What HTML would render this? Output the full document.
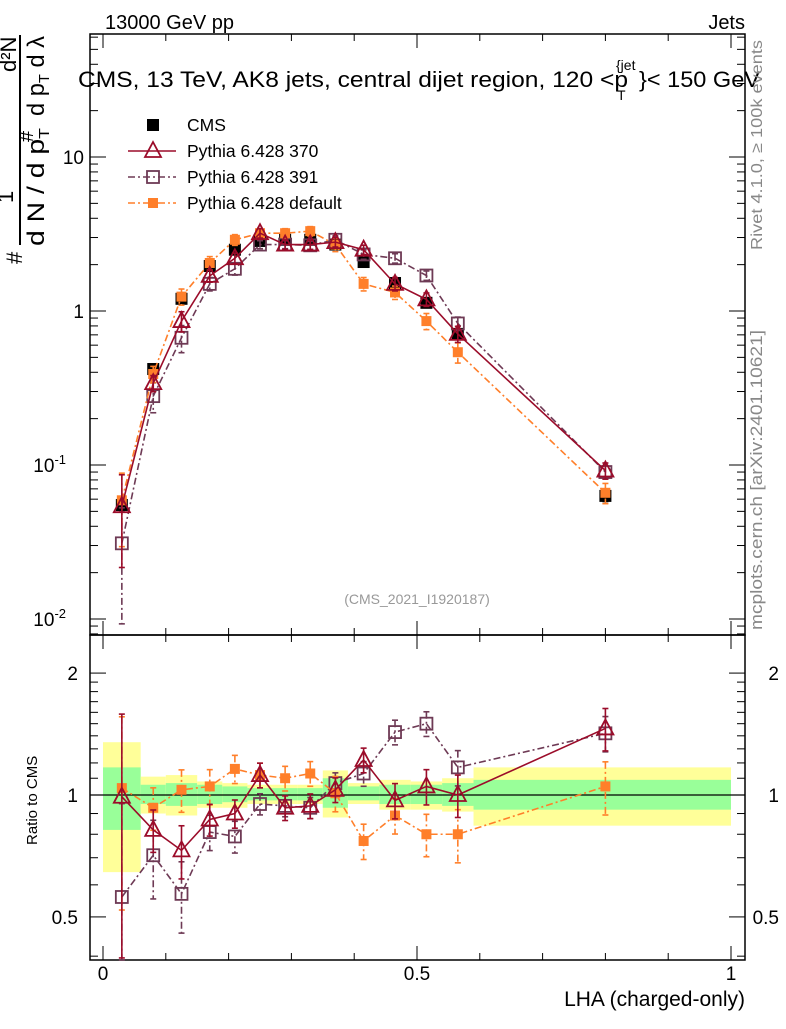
<!DOCTYPE html>
<html><head><meta charset="utf-8"><style>
html,body{margin:0;padding:0;background:#fff;}
svg text{font-family:"Liberation Sans",sans-serif;}
</style></head><body>
<svg id="chart" width="786" height="1024" viewBox="0 0 786 1024" xmlns="http://www.w3.org/2000/svg">
<g id="bands"></g>
<g id="axes"></g>
<g id="series"></g>
<text x="105" y="29" font-size="20">13000 GeV pp</text>
<text x="745" y="29" font-size="20" text-anchor="end">Jets</text>
<g>
<text x="78" y="87" font-size="22" textLength="550" lengthAdjust="spacingAndGlyphs">CMS, 13 TeV, AK8 jets, central dijet region, 120 &lt;p</text>
<text x="617" y="100" font-size="14">T</text>
<text x="616" y="70" font-size="14">{jet</text>
<text x="639" y="87" font-size="22" textLength="121" lengthAdjust="spacingAndGlyphs">}&lt; 150 GeV</text>
</g>
<text x="417" y="604" font-size="14" fill="#999" text-anchor="middle">(CMS_2021_I1920187)</text>
<text transform="translate(762,250) rotate(-90)" font-size="16" fill="#888" textLength="210" lengthAdjust="spacingAndGlyphs">Rivet 4.1.0, ≥ 100k events</text>
<text transform="translate(762,630) rotate(-90)" font-size="17" fill="#888" textLength="300" lengthAdjust="spacingAndGlyphs">mcplots.cern.ch [arXiv:2401.10621]</text>
<g font-size="24">
<line x1="20" y1="35" x2="20" y2="245" stroke="#000" stroke-width="2"/>
<text transform="translate(44,246) rotate(-90)" textLength="118" lengthAdjust="spacingAndGlyphs">d N / d p<tspan font-size="15" dy="5">T</tspan></text>
<text transform="translate(44,116) rotate(-90)" textLength="80" lengthAdjust="spacingAndGlyphs">d p<tspan font-size="15" dy="5">T</tspan><tspan dy="-5"> d λ</tspan></text>
<text transform="translate(22,264) rotate(-90)" font-size="22">#</text>
<text transform="translate(13,203) rotate(-90)" font-size="22">1</text>
<text transform="translate(33,142) rotate(-90)" font-size="20">#</text>
<text transform="translate(16,72) rotate(-90)" font-size="22">d²N</text>
</g>
<text transform="translate(37,845) rotate(-90)" font-size="15">Ratio to CMS</text>
<text x="745" y="1006" font-size="21" text-anchor="end">LHA (charged-only)</text>
<g id="legend"></g>
</svg>
<script>
const binEdges=[0,0.06,0.1,0.15,0.19,0.23,0.27,0.31,0.35,0.39,0.44,0.49,0.54,0.59,1.0];
const xCenters=[0.03,0.08,0.125,0.17,0.21,0.25,0.29,0.33,0.37,0.415,0.465,0.515,0.565,0.8];
const cmsValues=[0.055,0.42,1.2,1.96,2.5,2.85,2.9,2.9,2.7,2.08,1.52,1.13,0.71,0.063];
const cmsErr=[0.1,0.06,0.06,0.05,0.05,0.05,0.05,0.05,0.06,0.05,0.05,0.05,0.06,0.08];
const p370Values=[0.054,0.34,0.86,1.69,2.2,3.2,2.7,2.7,2.8,2.5,1.5,1.19,0.71,0.092];
const p370Ratio=[0.99,0.82,0.73,0.87,0.9,1.12,0.93,0.94,1.03,1.22,0.97,1.05,1.0,1.46];
const p370Err=[0.6,0.12,0.15,0.09,0.08,0.07,0.07,0.07,0.07,0.07,0.1,0.1,0.12,0.12];
const p391Values=[0.031,0.28,0.67,1.5,1.88,2.7,2.7,2.67,2.9,2.33,2.2,1.7,0.83,0.09];
const p391Ratio=[0.56,0.71,0.57,0.81,0.79,0.95,0.94,0.93,1.07,1.13,1.43,1.5,1.17,1.42];
const p391Err=[0.7,0.22,0.2,0.1,0.09,0.06,0.06,0.06,0.06,0.07,0.07,0.07,0.1,0.1];
const pDefValues=[0.059,0.39,1.24,2.05,2.9,3.2,3.2,3.3,2.7,1.5,1.32,0.86,0.54,0.066];
const pDefRatio=[1.04,0.93,1.03,1.05,1.16,1.12,1.1,1.13,1.01,0.77,0.89,0.8,0.8,1.05];
const pDefErr=[0.5,0.12,0.12,0.1,0.08,0.07,0.07,0.07,0.1,0.1,0.1,0.12,0.15,0.15];
const yellowLo=[0.645,0.90,0.89,0.93,0.93,0.95,0.95,0.95,0.88,0.95,0.92,0.92,0.91,0.84];
const yellowHi=[1.35,1.11,1.12,1.08,1.07,1.06,1.06,1.06,1.15,1.07,1.09,1.08,1.10,1.17];
const greenLo=[0.82,0.95,0.94,0.95,0.96,0.97,0.97,0.97,0.93,0.97,0.95,0.95,0.94,0.92];
const greenHi=[1.17,1.06,1.07,1.06,1.05,1.04,1.04,1.04,1.10,1.05,1.06,1.06,1.07,1.09];
const ratioTickLabels=["0.5","1","2"];
const xTickLabels=["0","0.5","1"];

const NS="http://www.w3.org/2000/svg";
const L=90,R=745,T=34,MB=635,RB=960;
const X=v=>103+v*628;
const Y=v=>311-154*Math.log10(v);
const RY=v=>795-405*Math.log10(v);
function mk(tag,attrs,parent){const e=document.createElementNS(NS,tag);for(const k in attrs)e.setAttribute(k,attrs[k]);parent.appendChild(e);return e;}
const bands=document.getElementById('bands'),axes=document.getElementById('axes'),ser=document.getElementById('series'),leg=document.getElementById('legend');

for(let i=0;i<xCenters.length;i++){
  const x0=X(binEdges[i]),x1=X(binEdges[i+1]);
  const y=mk('rect',{x:x0,y:RY(yellowHi[i]),width:x1-x0,height:RY(yellowLo[i])-RY(yellowHi[i]),fill:'#ffff99'},bands);
  
  
  const g=mk('rect',{x:x0,y:RY(greenHi[i]),width:x1-x0,height:RY(greenLo[i])-RY(greenHi[i]),fill:'#99ff99'},bands);
  
  
}
mk('rect',{x:L,y:T,width:R-L,height:MB-T,fill:'none',stroke:'#000','stroke-width':1.5},axes);
mk('rect',{x:L,y:MB,width:R-L,height:RB-MB,fill:'none',stroke:'#000','stroke-width':1.5},axes);
mk('line',{x1:L,x2:R,y1:RY(1),y2:RY(1),stroke:'#000','stroke-width':1.2},axes);
for(let k=0;k<=10;k++){const v=k/10,x=X(v),len=(k%5==0)?14:7;
  for(const [yb,dir] of [[T,1],[MB,-1],[MB,1],[RB,-1]]) mk('line',{x1:x,x2:x,y1:yb,y2:yb+dir*len,stroke:'#000'},axes);}
xTickLabels.forEach((t,i)=>{const e=mk('text',{x:X(i*0.5),y:980,'font-size':19,'text-anchor':'middle'},axes);e.textContent=t;
  
  });
for(let d=-3;d<=1;d++){for(let m=1;m<=9;m++){const v=m*Math.pow(10,d),y=Y(v);if(y<T||y>MB)continue;const len=m==1?16:8;
  mk('line',{x1:L,x2:L+len,y1:y,y2:y,stroke:'#000'},axes);mk('line',{x1:R,x2:R-len,y1:y,y2:y,stroke:'#000'},axes);}}
[[0.01,"10","-2"],[0.1,"10","-1"],[1,"1",""],[10,"10",""]].forEach(([v,b,e])=>{const t=mk('text',{x:84,y:Y(v)+7,'font-size':19,'text-anchor':'end'},axes);
  
  
  if(e){t.setAttribute('x',66);t.textContent=b;const s=mk('tspan',{'font-size':13,dy:-8},t);s.textContent=e;}else t.textContent=b;});
[0.4,0.5,0.6,0.7,0.8,0.9,1,1.1,1.2,1.3,1.4,1.5,1.6,1.7,1.8,1.9,2].forEach(v=>{const y=RY(v),len=(v==0.5||v==1||v==2)?16:8;
  mk('line',{x1:L,x2:L+len,y1:y,y2:y,stroke:'#000'},axes);mk('line',{x1:R,x2:R-len,y1:y,y2:y,stroke:'#000'},axes);});
ratioTickLabels.forEach(t=>{const v=parseFloat(t);
  const a=mk('text',{x:78,y:RY(v)+7,'font-size':19,'text-anchor':'end'},axes);a.textContent=t;
  
  
  const b=mk('text',{x:779,y:RY(v)+7,'font-size':19,'text-anchor':'end'},axes);b.textContent=t;
  
  });

function marker(g,type,x,y,col){
  if(type=='fsq')mk('rect',{x:x-6,y:y-6,width:12,height:12,fill:col},g);
  else if(type=='osq')mk('rect',{x:x-6,y:y-6,width:12,height:12,fill:'#fff','fill-opacity':0,stroke:col,'stroke-width':1.8},g);
  else if(type=='ofsq')mk('rect',{x:x-5,y:y-5,width:10,height:10,fill:col},g);
  else mk('path',{d:`M${x},${y-9}L${x+8},${y+6}L${x-8},${y+6}Z`,fill:'none',stroke:col,'stroke-width':1.8},g);
}
function drawSeries(name,vals,ratio,err,col,dash,type,line){
  const g=mk('g',{},ser);
  for(const [arr,fy,lo,hi] of [[vals,Y,T,MB],[ratio,RY,MB,RB]]){
    if(!arr)continue;
    if(line){const pts=arr.map((v,i)=>X(xCenters[i])+','+fy(v)).join(' ');
      const p=mk('polyline',{points:pts,fill:'none',stroke:col,'stroke-width':1.6},g);if(dash)p.setAttribute('stroke-dasharray',dash);}
    arr.forEach((v,i)=>{const x=X(xCenters[i]);let y1=fy(v*(1+err[i])),y2=fy(Math.max(v*(1-err[i]),1e-4));
      y1=Math.max(y1,lo);y2=Math.min(y2,hi);
      const l=mk('line',{x1:x,x2:x,y1:y1,y2:y2,stroke:col,'stroke-width':1.6},g);if(dash)l.setAttribute('stroke-dasharray',dash);
      mk('line',{x1:x-3,x2:x+3,y1:y1,y2:y1,stroke:col,'stroke-width':1.6},g);mk('line',{x1:x-3,x2:x+3,y1:y2,y2:y2,stroke:col,'stroke-width':1.6},g);
      const pt=mk('g',{},g);
      
      
      marker(pt,type,x,fy(v),col);});
  }
}
drawSeries('cms-data',cmsValues,null,cmsErr,'#000',null,'fsq',false);
drawSeries('pythia-391',p391Values,p391Ratio,p391Err,'#6e3a55','7,3,2,3','osq',true);
drawSeries('pythia-default',pDefValues,pDefRatio,pDefErr,'#ff7f2a','7,3,2,3','ofsq',true);
drawSeries('pythia-370',p370Values,p370Ratio,p370Err,'#9b0c2a',null,'tri',true);

const items=[['CMS','#000',null,'fsq',false],['Pythia 6.428 370','#9b0c2a',null,'tri',true],['Pythia 6.428 391','#6e3a55','7,3,2,3','osq',true],['Pythia 6.428 default','#ff7f2a','7,3,2,3','ofsq',true]];
items.forEach((it,i)=>{const y=125+i*26;const g=mk('g',{},leg);
  
  
  if(it[4]){const l=mk('line',{x1:128,x2:176,y1:y,y2:y,stroke:it[1],'stroke-width':1.6},g);if(it[2])l.setAttribute('stroke-dasharray',it[2]);}
  marker(g,it[3],153,y,it[1]);
  const t=mk('text',{x:187,y:y+6,'font-size':17.5},g);t.textContent=it[0];});
</script>
</body></html>
